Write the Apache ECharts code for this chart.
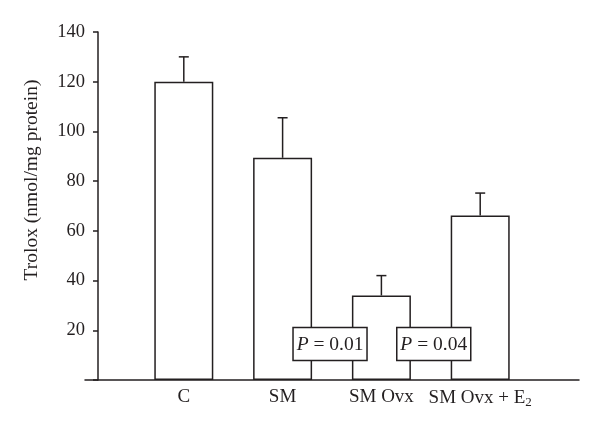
<!DOCTYPE html>
<html>
<head>
<meta charset="utf-8">
<script src="https://cdn.jsdelivr.net/npm/echarts@6/dist/echarts.min.js"></script>
<style>html,body{margin:0;padding:0;background:#fff}#c{width:600px;height:432px}</style>
</head>
<body>
<div id="c"></div>
<script>
// Data
var categories = ['', 'C', 'SM', 'SM Ovx', 'SM Ovx + E2', ''];
var meanValues = [null, 120, 89.4, 34, 66.2, null];
var errorTops  = [null, 130, 105.5, 42, 75.2, null];
var yTicks = [0, 20, 40, 60, 80, 100, 120, 140];
// p-value boxes: position given in category-index units, level in y units
var pTexts = ['0.01', '0.04'];
var pPositions = [2.48, 3.53];
var pLevels = [14.5, 14.5];
var yTitle = 'Trolox (nmol/mg protein)';

var FONT = '"Liberation Serif", "Times New Roman", serif';
var INK = '#231f20';

var chart = echarts.init(document.getElementById('c'), null, {renderer: 'canvas'});

var errData = [];
for (var i = 0; i < categories.length; i++) {
  if (meanValues[i] != null) errData.push([i, meanValues[i], errorTops[i]]);
}

var option = {
  animation: false,
  backgroundColor: '#fff',
  grid: { left: 85, right: 21, top: 32, bottom: 52 },
  xAxis: {
    type: 'category',
    data: categories,
    boundaryGap: false,
    axisLine: { show: true, lineStyle: { color: INK, width: 1.5 } },
    axisTick: { show: false },
    splitLine: { show: false },
    axisLabel: {
      interval: 0,
      margin: 8,
      color: INK,
      fontFamily: FONT,
      fontSize: 19,
      formatter: function (v) {
        if (/E2$/.test(v)) return '{n|' + v.slice(0, -1) + '}{s|2}';
        return '{n|' + v + '}';
      },
      rich: {
        n: { fontFamily: FONT, fontSize: 19, color: INK },
        s: { fontFamily: FONT, fontSize: 13, color: INK, verticalAlign: 'bottom', padding: [8, 0, 0, 0] }
      }
    }
  },
  yAxis: {
    type: 'value',
    min: yTicks[0],
    max: yTicks[yTicks.length - 1],
    interval: 20,
    offset: -13,
    axisLine: { show: true, onZero: false, lineStyle: { color: INK, width: 1.5 } },
    axisTick: { show: true, length: 5, inside: false, lineStyle: { color: INK, width: 1.5 } },
    splitLine: { show: false },
    axisLabel: {
      margin: 13,
      color: INK,
      fontFamily: FONT,
      fontSize: 18.5,
      formatter: function (v) { return v === 0 ? '' : String(v); }
    }
  },
  series: [
    {
      type: 'bar',
      data: meanValues,
      barWidth: 59,
      itemStyle: { color: '#fff', borderColor: INK, borderWidth: 1.5 },
      z: 2
    },
    {
      type: 'custom',
      data: errData,
      z: 3,
      renderItem: function (params, api) {
        var x = api.value(0);
        var p0 = api.coord([x, api.value(1)]);
        var p1 = api.coord([x, api.value(2)]);
        var half = 5;
        return {
          type: 'group',
          children: [
            { type: 'line', shape: { x1: p0[0], y1: p0[1], x2: p1[0], y2: p1[1] }, style: { stroke: INK, lineWidth: 1.5 } },
            { type: 'line', shape: { x1: p1[0] - half, y1: p1[1], x2: p1[0] + half, y2: p1[1] }, style: { stroke: INK, lineWidth: 1.5 } }
          ]
        };
      }
    }
  ],
  graphic: [
    {
      type: 'text',
      x: 32,
      y: 180,
      rotation: Math.PI / 2,
      style: { text: yTitle, fill: INK, font: '19.5px ' + FONT, align: 'center', verticalAlign: 'middle' },
      z: 10
    }
  ]
};
chart.setOption(option);

// P-value boxes placed via axis conversion (interpolated between category positions)
var boxes = [];
pTexts.forEach(function (t, k) {
  var pos = pPositions[k];
  var i0 = Math.floor(pos), f = pos - i0;
  var a = chart.convertToPixel({ gridIndex: 0 }, [i0, pLevels[k]]);
  var b = chart.convertToPixel({ gridIndex: 0 }, [i0 + 1, pLevels[k]]);
  var cx = a[0] + (b[0] - a[0]) * f, cy = a[1];
  var w = 74, h = 33;
  boxes.push({
    type: 'group',
    x: cx, y: cy,
    z: 20,
    children: [
      { type: 'rect', shape: { x: -w / 2, y: -h / 2, width: w, height: h }, style: { fill: '#fff', stroke: INK, lineWidth: 1.5 }, z: 20 },
      { type: 'text', x: 0, y: 1, z: 21,
        style: {
          text: '{i|P} = ' + t,
          font: '19.5px ' + FONT, fill: INK, align: 'center', verticalAlign: 'middle',
          rich: { i: { fontStyle: 'italic', fontFamily: FONT, fontSize: 19.5, fill: INK } }
        }
      }
    ]
  });
});
chart.setOption({ graphic: option.graphic.concat(boxes) });
</script>
</body>
</html>
